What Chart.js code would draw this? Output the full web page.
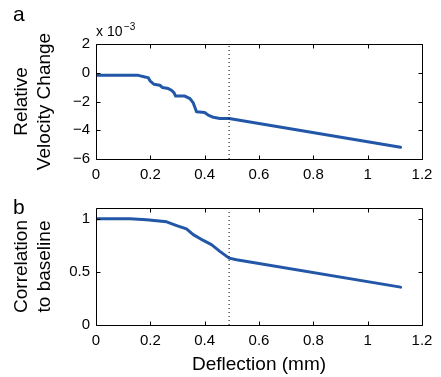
<!DOCTYPE html>
<html lang="en">
<head>
<meta charset="UTF-8">
<title>Deflection panels</title>
<script src="https://cdn.jsdelivr.net/npm/chart.js"></script>
<style>
  html, body { margin: 0; padding: 0; background: #fff; }
  #wrap { position: relative; width: 441px; height: 377px; overflow: hidden; }
  #panelA { position: absolute; left: 0; top: 0; }
  #panelB { position: absolute; left: 0; top: 185px; }
</style>
</head>
<body>
<div id="wrap">
  <canvas id="panelA" width="441" height="185"></canvas>
  <canvas id="panelB" width="441" height="192"></canvas>
</div>
<script>
// panel a: relative velocity change (x 10^-3) vs deflection (mm)
const deflA = [0, 0.005, 0.156, 0.18, 0.192, 0.199, 0.213, 0.235, 0.245, 0.266, 0.278, 0.287, 0.293, 0.327, 0.346, 0.358, 0.37, 0.4, 0.413, 0.432, 0.456, 0.49, 1.121];
const velA  = [-0.1, -0.18, -0.18, -0.3, -0.34, -0.56, -0.8, -0.87, -1.03, -1.1, -1.22, -1.38, -1.62, -1.62, -1.8, -2.1, -2.72, -2.77, -2.95, -3.1, -3.18, -3.18, -5.18];

// panel b: correlation to baseline vs deflection (mm)
const deflB = [0, 0.125, 0.186, 0.26, 0.297, 0.333, 0.358, 0.395, 0.425, 0.456, 0.49, 0.517, 1.121];
const corrB = [1.0, 1.0, 0.99, 0.97, 0.935, 0.903, 0.85, 0.795, 0.755, 0.692, 0.629, 0.613, 0.356];

// dotted marker
const markX = 0.49;

// axes
const xTicks  = [0, 0.2, 0.4, 0.6, 0.8, 1, 1.2];
const yTicksA = [-6, -4, -2, 0, 2];
const yTicksB = [0, 0.5, 1];
const yRangeA = [-6, 2];
const yRangeB = [0, 1.1];

const FONT = "'Liberation Sans', Arial, sans-serif";
const BLUE = '#2257a8';

const frame = {
  id: 'frame',
  afterDraw(chart) {
    const { ctx, chartArea: a, scales: { x, y } } = chart;
    const L = Math.round(a.left) + 0.5, R = Math.round(a.right) + 0.5;
    const T = Math.round(a.top) + 0.5, B = Math.round(a.bottom) + 0.5;
    ctx.save();
    ctx.strokeStyle = '#000';
    ctx.lineWidth = 1;
    ctx.beginPath();
    ctx.rect(L, T, R - L, B - T);
    x.ticks.forEach(t => {
      const px = Math.round(x.getPixelForValue(t.value)) + 0.5;
      ctx.moveTo(px, B); ctx.lineTo(px, B - 4);
      ctx.moveTo(px, T); ctx.lineTo(px, T + 4);
    });
    y.ticks.forEach(t => {
      const py = Math.round(y.getPixelForValue(t.value)) + 0.5;
      ctx.moveTo(L, py); ctx.lineTo(L + 4, py);
      ctx.moveTo(R, py); ctx.lineTo(R - 4, py);
    });
    ctx.stroke();
    ctx.restore();
  }
};

const panelText = {
  id: 'panelText',
  afterDraw(chart, args, opts) {
    const { ctx } = chart;
    ctx.save();
    ctx.fillStyle = '#000';
    ctx.textBaseline = 'alphabetic';
    ctx.textAlign = 'left';
    ctx.font = '21px ' + FONT;
    ctx.fillText(opts.letter, 13, opts.letterY);
    if (opts.exponent) {
      ctx.font = '14px ' + FONT;
      ctx.fillText('x 10', 96, 36);
      ctx.font = '10px ' + FONT;
      ctx.fillText('\u22123', 124, 30);
    }
    ctx.restore();
  }
};

function fmt(v) {
  const s = String(parseFloat(v.toFixed(2)));
  return s.replace('-', '\u2212');
}

function makeChart(id, xs, ys, yRange, yTicks, yTitle, xTitle, layout, xHeight, textOpts) {
  const line = xs.map((x, i) => ({ x: x, y: ys[i] }));
  const marker = [{ x: markX, y: yRange[0] }, { x: markX, y: yRange[1] }];
  return new Chart(document.getElementById(id), {
    type: 'scatter',
    data: {
      datasets: [
        { data: marker, showLine: true, borderColor: '#000', borderWidth: 1, borderDash: [1, 3], pointRadius: 0 },
        { data: line, showLine: true, borderColor: BLUE, borderWidth: 3, pointRadius: 0, borderJoinStyle: 'round', borderCapStyle: 'round' }
      ]
    },
    options: {
      responsive: false,
      animation: false,
      devicePixelRatio: 1,
      layout: { padding: layout },
      plugins: { legend: { display: false }, tooltip: { enabled: false }, panelText: textOpts },
      scales: {
        x: {
          type: 'linear', min: 0, max: 1.2,
          afterBuildTicks: s => { s.ticks = xTicks.map(v => ({ value: v })); },
          afterFit: s => { s.height = xHeight; },
          grid: { display: false, drawTicks: false },
          border: { display: false },
          ticks: { color: '#000', padding: 7, font: { family: FONT, size: 15 }, callback: v => fmt(v), maxRotation: 0 },
          title: { display: !!xTitle, text: xTitle, color: '#000', font: { family: FONT, size: 19, lineHeight: 1.18 }, padding: { top: 0, bottom: 1 } }
        },
        y: {
          type: 'linear', min: yRange[0], max: yRange[1],
          afterBuildTicks: s => { s.ticks = yTicks.map(v => ({ value: v })); },
          afterFit: s => { s.width = 96; },
          grid: { display: false, drawTicks: false },
          border: { display: false },
          ticks: { color: '#000', padding: 6, font: { family: FONT, size: 15 }, callback: v => fmt(v) },
          title: { display: true, text: yTitle, color: '#000', font: { family: FONT, size: 19, lineHeight: 1.18 }, padding: { top: 11, bottom: 0 } }
        }
      }
    },
    plugins: [frame, panelText]
  });
}

makeChart('panelA', deflA, velA, yRangeA, yTicksA, ['Relative', 'Velocity Change'], '',
  { top: 44, right: 19, bottom: 0, left: 0 }, 26, { letter: 'a', letterY: 21, exponent: true });
makeChart('panelB', deflB, corrB, yRangeB, yTicksB, ['Correlation', 'to baseline'], 'Deflection (mm)',
  { top: 23, right: 19, bottom: 0, left: 0 }, 52, { letter: 'b', letterY: 29, exponent: false });
</script>
</body>
</html>
